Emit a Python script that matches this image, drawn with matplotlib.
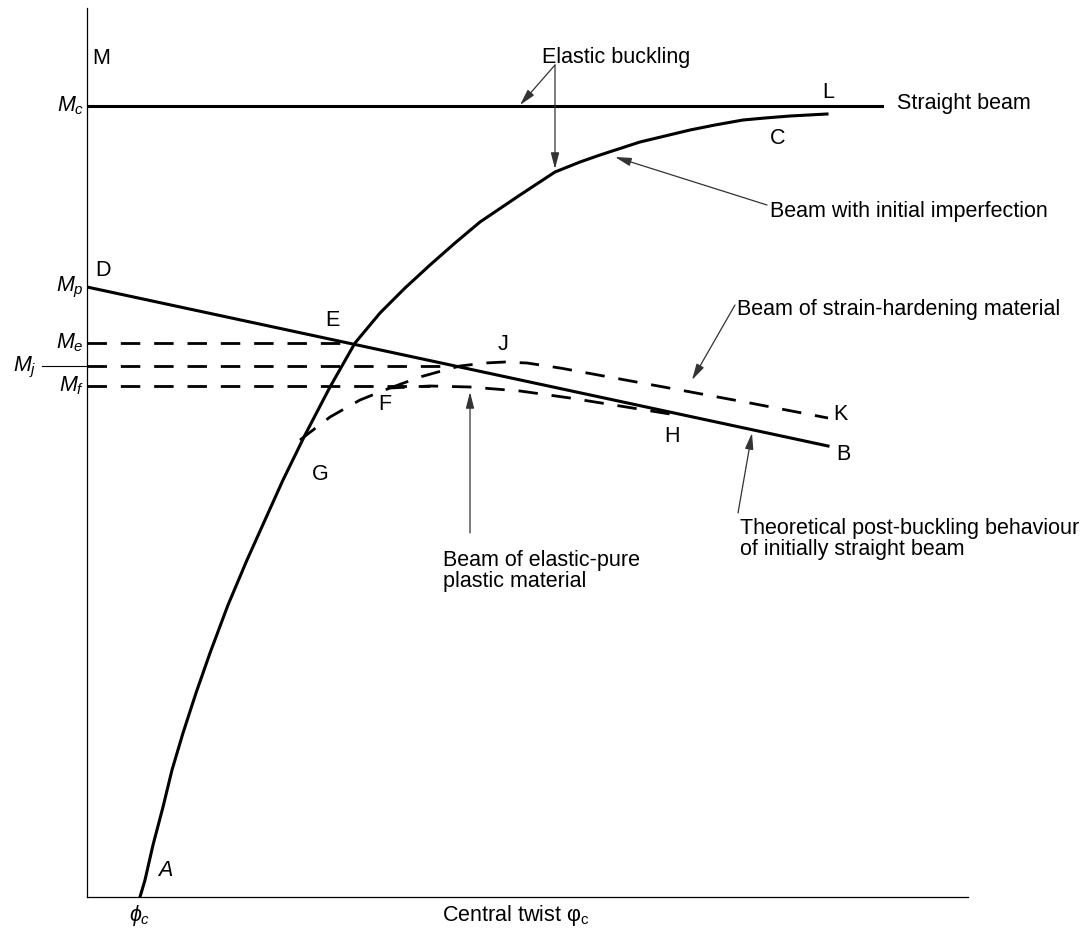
import numpy as np
import matplotlib
matplotlib.use('Agg')
import matplotlib.pyplot as plt

plt.rcParams['font.family'] = 'Liberation Sans'
plt.rcParams['mathtext.fontset'] = 'custom'
plt.rcParams['mathtext.rm'] = 'Liberation Sans'
plt.rcParams['mathtext.it'] = 'Liberation Sans:italic'

# curve points (x = twist, y = moment, arbitrary units)
curve_x = [53, 58, 66, 76, 85, 96, 109, 123, 141, 160, 178, 196, 218, 243, 268, 293, 318, 343,
           368, 393, 433, 468, 493, 513, 553, 578, 603, 628, 656, 678, 703, 740]
curve_y = [0, 17, 52, 90, 127, 164, 204, 244, 292, 337, 377, 417, 462, 510, 554, 584, 609, 632,
           654, 675, 702, 725, 735, 742, 755, 761, 767, 772, 777, 779, 781, 783]

straight_x = [0, 795]
straight_y = [791, 791]

post_x = [0, 741]
post_y = [610, 451]

Me, Mj, Mf = 554, 531, 511
Me_end, Mj_end, Mf_end = 268, 373, 343

plastic_x = [213, 243, 273, 303, 343, 383, 433, 483, 533, 583]
plastic_y = [457, 480, 497, 509, 511, 510, 506, 499, 491, 483]

harden_x = [303, 333, 358, 373, 398, 418, 440, 473, 533, 593, 663, 741]
harden_y = [509, 520, 527, 531, 534, 535, 534, 529, 518, 507, 494, 479]

fig = plt.figure(figsize=(10.89, 9.34), dpi=100)
ax = fig.add_axes([87/1089, 37/934, 881/1089, 889/934])
ax.set_xlim(0, 881)
ax.set_ylim(0, 889)
ax.spines['top'].set_visible(False)
ax.spines['right'].set_visible(False)
ax.spines['left'].set_linewidth(0.9)
ax.spines['bottom'].set_linewidth(0.9)
ax.set_xticks([])
ax.set_yticks([])

lw = 2.2
ax.plot(curve_x, curve_y, color='black', lw=lw, solid_joinstyle='round')
ax.plot(straight_x, straight_y, color='black', lw=lw)
ax.plot(post_x, post_y, color='black', lw=lw)

dash = dict(color='black', lw=2.0, dashes=(7, 5), dash_capstyle='butt')
ax.plot([0, Me_end], [Me, Me], **dash)
ax.plot([0, Mj_end], [Mj, Mj], **dash)
ax.plot([0, Mf_end], [Mf, Mf], **dash)
ax.plot(plastic_x, plastic_y, **dash)
ax.plot(harden_x, harden_y, **dash)

# thin tick for M_j outside the axis
ax.plot([-45, 0], [Mj, Mj], color='black', lw=0.8, clip_on=False)

fs = 15.5
# y labels
ax.text(-3, 791, r'$M_c$', fontsize=fs, ha='right', va='center')
ax.text(-3, 610, r'$M_p$', fontsize=fs, ha='right', va='center')
ax.text(-3, 554, r'$M_e$', fontsize=fs, ha='right', va='center')
ax.text(-62, 530, r'$M_j$', fontsize=fs, ha='center', va='center')
ax.text(-3, 511, r'$M_f$', fontsize=fs, ha='right', va='center')

# point labels
ax.text(5, 839, 'M', fontsize=fs, ha='left', va='center')
ax.text(741, 805, 'L', fontsize=fs, ha='center', va='center')
ax.text(691, 759, 'C', fontsize=fs, ha='center', va='center')
ax.text(8, 627, 'D', fontsize=fs, ha='left', va='center')
ax.text(245, 577, 'E', fontsize=fs, ha='center', va='center')
ax.text(416, 552, 'J', fontsize=fs, ha='center', va='center')
ax.text(298, 492, 'F', fontsize=fs, ha='center', va='center')
ax.text(233, 422, 'G', fontsize=fs, ha='center', va='center')
ax.text(585, 460, 'H', fontsize=fs, ha='center', va='center')
ax.text(746, 482, 'K', fontsize=fs, ha='left', va='center')
ax.text(749, 442, 'B', fontsize=fs, ha='left', va='center')
ax.text(78, 27, r'$A$', fontsize=fs, ha='center', va='center')

ax.text(810, 793, 'Straight beam', fontsize=fs, ha='left', va='center')
ax.text(53, -18, r'$\phi_c$', fontsize=fs, ha='center', va='center', clip_on=False)
ax.text(429, -18, r'Central twist $\mathrm{φ}_\mathrm{c}$', fontsize=fs, ha='center', va='center', clip_on=False)

arr = dict(arrowstyle='-|>,head_length=0.7,head_width=0.18', color='#333333', lw=0.9,
           shrinkA=0, shrinkB=0, mutation_scale=14)

ax.text(529, 840, 'Elastic buckling', fontsize=fs, ha='center', va='center')
ax.annotate('', xy=(433, 792), xytext=(468, 832), arrowprops=arr)
ax.annotate('', xy=(468, 728), xytext=(468, 832), arrowprops=arr)

ax.text(683, 685, 'Beam with initial imperfection', fontsize=fs, ha='left', va='center')
ax.annotate('', xy=(528, 740), xytext=(680, 692), arrowprops=arr)

ax.text(650, 587, 'Beam of strain-hardening material', fontsize=fs, ha='left', va='center')
ax.annotate('', xy=(605, 517), xytext=(648, 592), arrowprops=arr)

ax.text(653, 358, 'Theoretical post-buckling behaviour\nof initially straight beam', fontsize=fs,
        ha='left', va='center', linespacing=1.05)
ax.annotate('', xy=(665, 464), xytext=(651, 384), arrowprops=arr)

ax.text(356, 326, 'Beam of elastic-pure\nplastic material', fontsize=fs,
        ha='left', va='center', linespacing=1.05)
ax.annotate('', xy=(383, 505), xytext=(383, 364), arrowprops=arr)

fig.savefig('out.png', dpi=100)
